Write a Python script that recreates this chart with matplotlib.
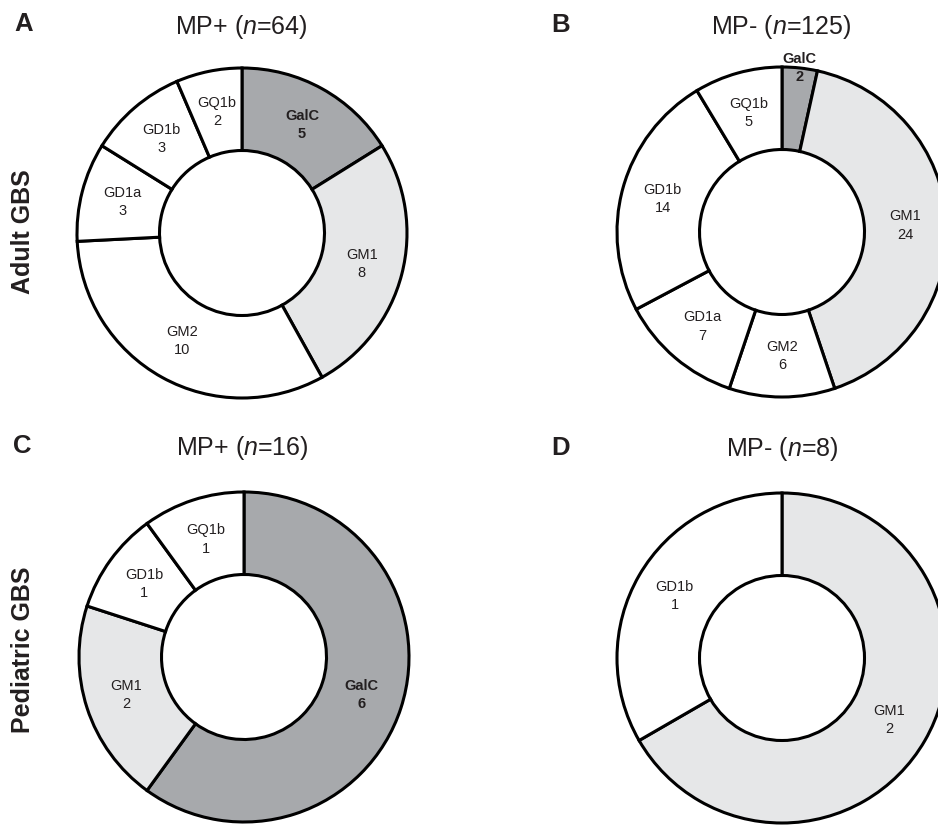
import matplotlib
matplotlib.use('Agg')
import matplotlib.pyplot as plt
import numpy as np

plt.rcParams['font.family'] = ['Liberation Sans', 'DejaVu Sans']
plt.rcParams['mathtext.fontset'] = 'custom'
plt.rcParams['mathtext.rm'] = 'Liberation Sans'
plt.rcParams['mathtext.it'] = 'Liberation Sans:italic'

# data, clockwise from 12 o'clock
adult_mp_pos_names = ['GalC', 'GM1', 'GM2', 'GD1a', 'GD1b', 'GQ1b']
adult_mp_pos_counts = [5, 8, 10, 3, 3, 2]
adult_mp_neg_names = ['GalC', 'GM1', 'GM2', 'GD1a', 'GD1b', 'GQ1b']
adult_mp_neg_counts = [2, 24, 6, 7, 14, 5]
ped_mp_pos_names = ['GalC', 'GM1', 'GD1b', 'GQ1b']
ped_mp_pos_counts = [6, 2, 1, 1]
ped_mp_neg_names = ['GM1', 'GD1b']
ped_mp_neg_counts = [2, 1]

panel_letters = ['A', 'B', 'C', 'D']
panel_titles = ['MP+ ($n$=64)', 'MP- ($n$=125)', 'MP+ ($n$=16)', 'MP- ($n$=8)']
row_labels = ['Adult GBS', 'Pediatric GBS']

colors = {'GalC': '#a7a9ac', 'GM1': '#e6e7e8'}
text_color = '#231f20'

W, H = 938, 825
fig = plt.figure(figsize=(W / 100, H / 100), dpi=100)


def fx(x):
    return x / W


def fy(y):
    return 1 - y / H


R = 165      # outer radius in px
HALF = 178   # half size of each axes in px


def donut(cx, cy, names, counts):
    ax = fig.add_axes([fx(cx - HALF), fy(cy + HALF), 2 * HALF / W, 2 * HALF / H])
    cols = [colors.get(n, 'white') for n in names]
    wedges, _ = ax.pie(counts, colors=cols, startangle=90, counterclock=False,
                       radius=1, wedgeprops=dict(width=0.5, edgecolor='black',
                                                 linewidth=2.2))
    total = sum(counts)
    for w, n, c in zip(wedges, names, counts):
        mid = np.deg2rad((w.theta1 + w.theta2) / 2)
        r = 0.75 if c / total > 0.05 else 1.0
        weight = 'bold' if n == 'GalC' else 'normal'
        ax.text(r * np.cos(mid), r * np.sin(mid), f'{n}\n{c}', ha='center',
                va='center', fontsize=10.5, color=text_color, weight=weight,
                linespacing=1.4)
    lim = HALF / R
    ax.set_xlim(-lim, lim)
    ax.set_ylim(-lim, lim)
    ax.set_aspect('equal')
    ax.axis('off')
    return ax


donut(242, 233, adult_mp_pos_names, adult_mp_pos_counts)
donut(782, 232, adult_mp_neg_names, adult_mp_neg_counts)
donut(244, 657, ped_mp_pos_names, ped_mp_pos_counts)
donut(782, 658, ped_mp_neg_names, ped_mp_neg_counts)

# panel letters and titles
letter_pos = [(14, 24), (551, 25), (13, 446), (551, 448)]
title_pos = [(241, 27), (781, 27), (242, 448), (782, 449)]
for l, (lx, ly), t, (tx, ty) in zip(panel_letters, letter_pos, panel_titles, title_pos):
    fig.text(fx(lx), fy(ly), l, ha='left', va='center', fontsize=18.5,
             weight='bold', color=text_color)
    fig.text(fx(tx), fy(ty), t, ha='center', va='center', fontsize=18,
             color=text_color)

fig.text(fx(23), fy(232), row_labels[0], rotation=90, ha='center', va='center',
         fontsize=18, weight='bold', color=text_color)
fig.text(fx(23), fy(650), row_labels[1], rotation=90, ha='center', va='center',
         fontsize=18, weight='bold', color=text_color)

fig.savefig('out.png', dpi=100)
